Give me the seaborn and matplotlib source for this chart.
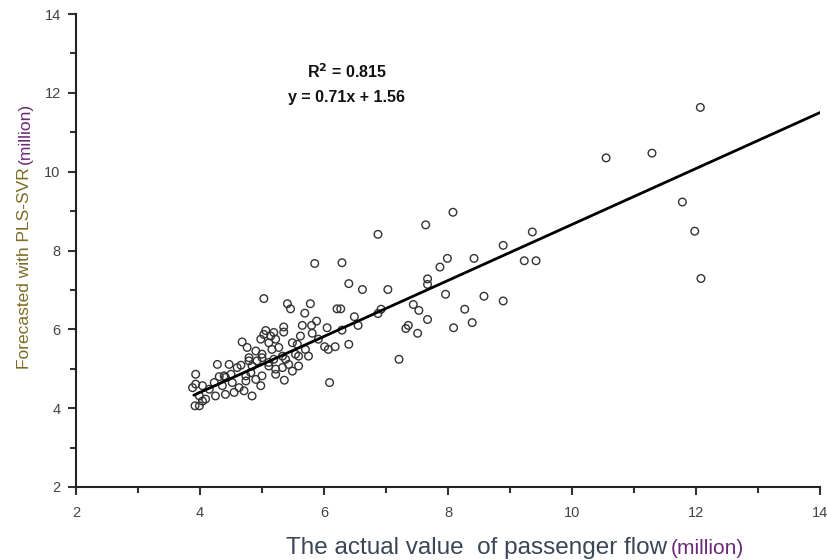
import matplotlib
matplotlib.use("Agg")
import matplotlib.pyplot as plt
import seaborn as sns
import pandas as pd

# Actual passenger flow (million) and forecasted values with PLS-SVR (million)
actual = [
    12.07, 10.55, 11.29, 11.78, 11.98, 12.08,
    9.36, 8.89, 9.23, 9.42, 8.42, 8.58, 8.89, 8.39,
    8.08, 7.64, 6.87, 7.99, 7.87, 7.67, 7.67,
    6.29, 5.85, 6.40, 6.62, 7.03, 7.96, 7.44, 7.53, 8.27, 7.67, 8.09, 7.36, 7.32, 7.51,
    6.49, 6.55, 6.40, 6.92, 6.87, 7.21, 6.09, 5.36,
    5.03, 5.41, 5.46, 5.78, 5.69, 6.21, 6.27, 5.88, 5.65, 5.80,
    6.05, 6.29, 5.35, 5.35, 5.19, 5.06, 5.14, 4.98, 4.68, 4.76, 5.62, 5.81, 5.91,
    6.01, 6.18, 6.07, 5.49, 5.57, 5.27, 4.90, 4.79, 5.00, 5.19, 5.38, 5.59, 5.75,
    4.66, 4.84, 5.11, 5.33, 5.49, 5.59, 4.28, 3.93, 4.39, 4.50, 4.74, 5.00, 5.22,
    5.70, 5.33, 5.54, 5.43, 5.03, 5.11, 5.22, 5.16, 5.00, 4.79, 4.92, 5.11, 5.22,
    4.47, 4.60, 4.31,
    3.93, 4.04, 4.15, 4.23, 4.36, 4.41, 4.52, 4.63, 4.74, 4.82, 4.90, 4.98, 4.84,
    3.88, 3.99, 4.09, 4.25, 4.41, 4.55, 4.71, 3.92, 3.99, 4.04,
]
forecast = [
    11.63, 10.35, 10.47, 9.23, 8.49, 7.29,
    8.47, 8.13, 7.74, 7.74, 7.80, 6.84, 6.72, 6.17,
    8.97, 8.65, 8.41, 7.80, 7.58, 7.28, 7.14,
    7.69, 7.67, 7.16, 7.01, 7.01, 6.89, 6.63, 6.48, 6.51, 6.25, 6.04, 6.10, 6.02, 5.90,
    6.32, 6.10, 5.62, 6.51, 6.40, 5.24, 4.65, 4.71,
    6.78, 6.65, 6.52, 6.65, 6.41, 6.52, 6.52, 6.21, 6.10, 6.10,
    6.04, 5.98, 6.06, 5.93, 5.92, 5.97, 5.83, 5.75, 5.68, 5.54, 5.83, 5.90, 5.75,
    5.56, 5.56, 5.49, 5.66, 5.62, 5.54, 5.45, 5.28, 5.28, 5.24, 5.24, 5.32, 5.32,
    5.09, 5.07, 5.07, 5.03, 4.94, 5.07, 5.11, 4.86, 4.82, 4.86, 4.82, 4.82, 4.86,
    5.49, 5.32, 5.37, 5.11, 5.87, 5.66, 5.75, 5.49, 5.37, 5.20, 5.20, 5.16, 4.99,
    5.11, 5.03, 4.80,
    4.61, 4.57, 4.48, 4.65, 4.57, 4.78, 4.65, 4.52, 4.69, 4.90, 4.73, 4.57, 4.31,
    4.52, 4.31, 4.23, 4.31, 4.35, 4.40, 4.44, 4.06, 4.06, 4.18,
]

slope = 0.71
intercept = 1.56
fit_x = [3.9, 14.0]
r2_text = "R$^\\mathbf{2}$ = 0.815"
eq_text = "y = 0.71x + 1.56"

x_ticks = [2, 4, 6, 8, 10, 12, 14]
y_ticks = [2, 4, 6, 8, 10, 12, 14]
minor_ticks = [3, 5, 7, 9, 11, 13]

sns.set_style("ticks")
plt.rcParams['font.family'] = ['Liberation Sans', 'DejaVu Sans']

W, H = 828, 560
fig = plt.figure(figsize=(W / 100, H / 100), dpi=100)
left_px, right_px, top_px, bottom_px = 76, 820, 14, 487
ax = fig.add_axes([left_px / W, (H - bottom_px) / H,
                   (right_px - left_px) / W, (bottom_px - top_px) / H])

df = pd.DataFrame({"actual": actual, "forecast": forecast})
sns.scatterplot(data=df, x="actual", y="forecast", ax=ax, s=30,
                facecolors="none", edgecolor="#333333", linewidth=1.0, marker="o")

fit_df = pd.DataFrame({"x": fit_x, "y": [slope * v + intercept for v in fit_x]})
sns.lineplot(data=fit_df, x="x", y="y", ax=ax, color="black", linewidth=2.0)

ax.set_xlim(2, 14)
ax.set_ylim(2, 14)
ax.set_xticks(x_ticks)
ax.set_yticks(y_ticks)
ax.set_xticks(minor_ticks, minor=True)
ax.set_yticks(minor_ticks, minor=True)
ax.tick_params(axis="both", which="major", length=6, width=1.5, direction="out",
               labelsize=10.5, colors="#333333", labelcolor="#444444")
ax.tick_params(axis="x", which="major", pad=8)
ax.tick_params(axis="y", which="major", pad=5)
ax.tick_params(axis="both", which="minor", length=4, width=1.5, direction="out",
               colors="#333333")
ax.set_xlabel("")
ax.set_ylabel("")
sns.despine(ax=ax)
for sp in ["left", "bottom"]:
    ax.spines[sp].set_linewidth(1.5)
    ax.spines[sp].set_color("#222222")

ax.text(6.37, 12.53, r2_text, ha="center", va="center", fontsize=11.5,
        fontweight="bold", color="#111111")
ax.text(6.37, 11.87, eq_text, ha="center", va="center", fontsize=11.5,
        fontweight="bold", color="#111111")

# Axis labels (two colours as in the reference)
renderer = fig.canvas.get_renderer()
t1 = fig.text(286 / W, (H - 548) / H, "The actual value  of passenger flow",
              ha="left", va="center", fontsize=17.5, color="#3a4656")
bb = t1.get_window_extent(renderer)
fig.text((bb.x1 + 4) / W, (H - 548) / H, "(million)", ha="left", va="center",
         fontsize=15, color="#6a2a78")

t2 = fig.text(25 / W, (H - 369) / H, "Forecasted with PLS-SVR", rotation=90,
              ha="center", va="bottom", fontsize=12.5, color="#7d6b22")
bb2 = t2.get_window_extent(renderer)
fig.text(25 / W, (bb2.y1 + 3) / H, "(million)", rotation=90,
         ha="center", va="bottom", fontsize=12.5, color="#6a2a78")

fig.savefig("out.png", dpi=100)
